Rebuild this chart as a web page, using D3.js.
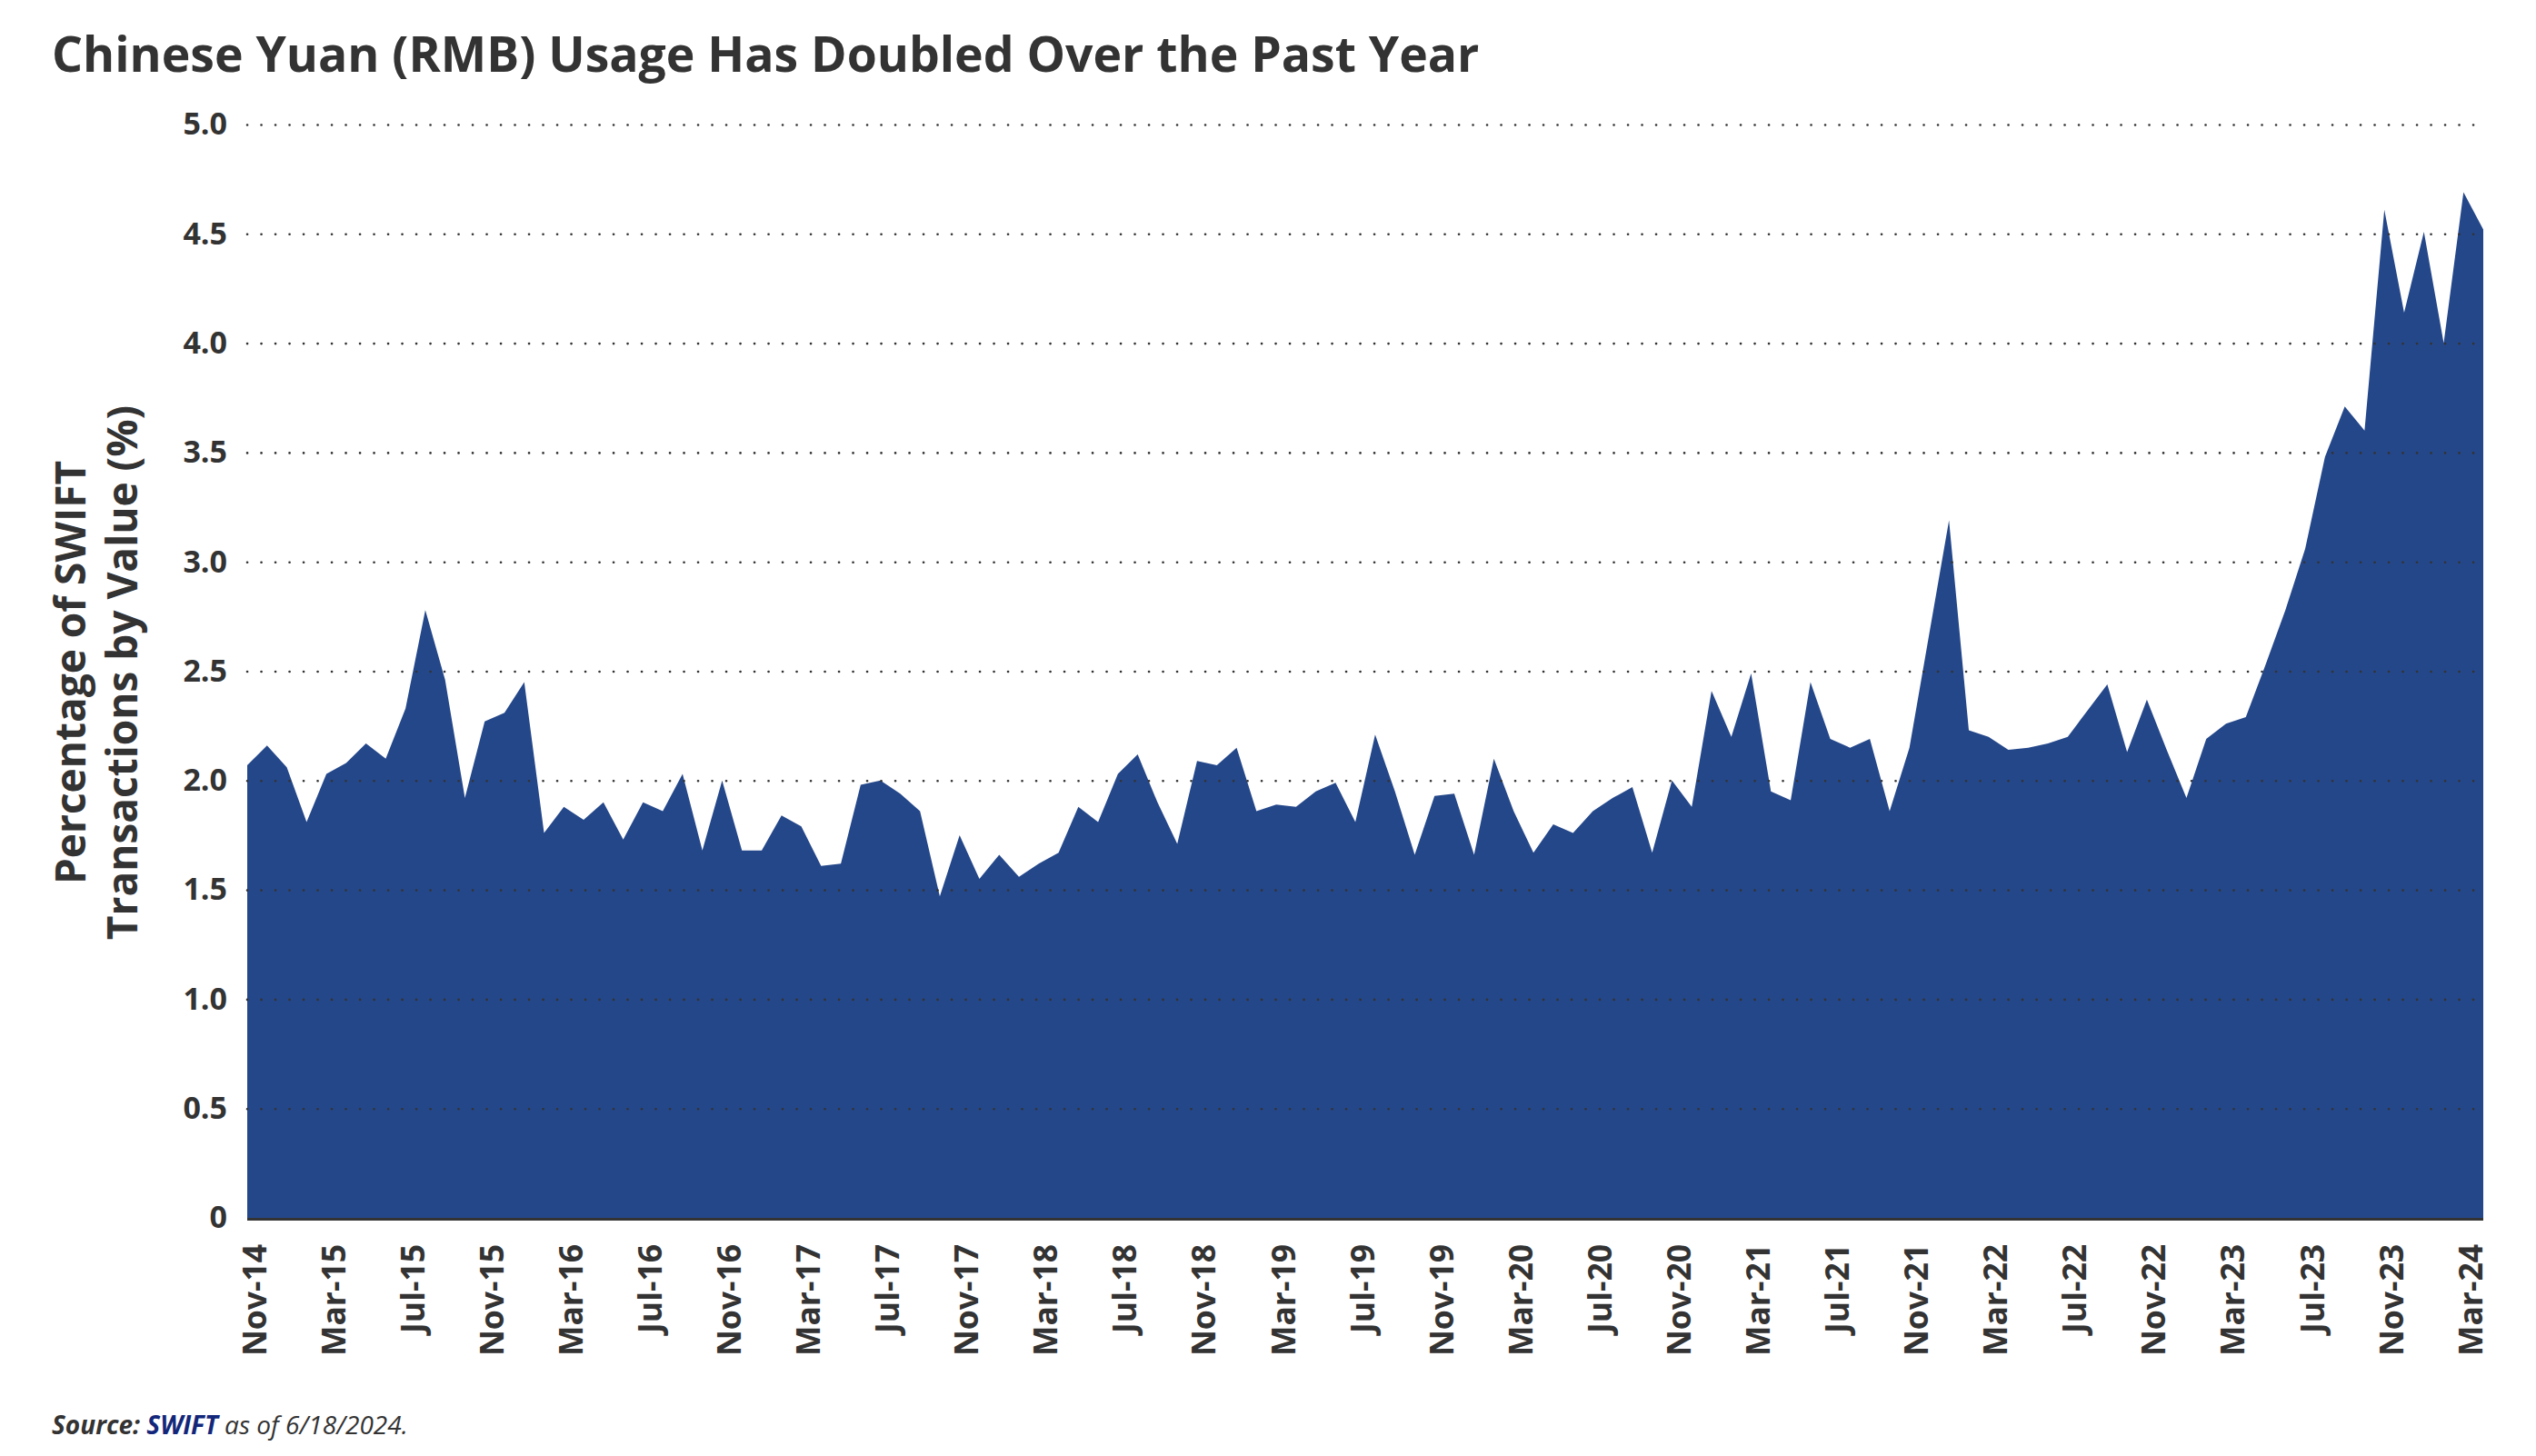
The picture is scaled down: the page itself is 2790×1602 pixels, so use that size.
<!DOCTYPE html>
<html>
<head>
<meta charset="utf-8">
<script src="https://cdn.jsdelivr.net/npm/d3@7"></script>
<style>
  html, body { margin: 0; padding: 0; background: #ffffff; }
  svg { display: block; }
</style>
</head>
<body>
<svg id="chart" width="2790" height="1602"></svg>
<script>
const months = [
  "Nov-14","Dec-14",
  "Jan-15","Feb-15","Mar-15","Apr-15","May-15","Jun-15","Jul-15","Aug-15","Sep-15","Oct-15","Nov-15","Dec-15",
  "Jan-16","Feb-16","Mar-16","Apr-16","May-16","Jun-16","Jul-16","Aug-16","Sep-16","Oct-16","Nov-16","Dec-16",
  "Jan-17","Feb-17","Mar-17","Apr-17","May-17","Jun-17","Jul-17","Aug-17","Sep-17","Oct-17","Nov-17","Dec-17",
  "Jan-18","Feb-18","Mar-18","Apr-18","May-18","Jun-18","Jul-18","Aug-18","Sep-18","Oct-18","Nov-18","Dec-18",
  "Jan-19","Feb-19","Mar-19","Apr-19","May-19","Jun-19","Jul-19","Aug-19","Sep-19","Oct-19","Nov-19","Dec-19",
  "Jan-20","Feb-20","Mar-20","Apr-20","May-20","Jun-20","Jul-20","Aug-20","Sep-20","Oct-20","Nov-20","Dec-20",
  "Jan-21","Feb-21","Mar-21","Apr-21","May-21","Jun-21","Jul-21","Aug-21","Sep-21","Oct-21","Nov-21","Dec-21",
  "Jan-22","Feb-22","Mar-22","Apr-22","May-22","Jun-22","Jul-22","Aug-22","Sep-22","Oct-22","Nov-22","Dec-22",
  "Jan-23","Feb-23","Mar-23","Apr-23","May-23","Jun-23","Jul-23","Aug-23","Sep-23","Oct-23","Nov-23","Dec-23",
  "Jan-24","Feb-24","Mar-24","Apr-24"
];

const rmbShare = [
  2.07, 2.16,
  2.06, 1.81, 2.03, 2.08, 2.17, 2.10, 2.33, 2.78, 2.46, 1.92, 2.27, 2.31,
  2.45, 1.76, 1.88, 1.82, 1.90, 1.73, 1.90, 1.86, 2.03, 1.68, 2.00, 1.68,
  1.68, 1.84, 1.79, 1.61, 1.62, 1.98, 2.00, 1.94, 1.86, 1.47, 1.75, 1.55,
  1.66, 1.56, 1.62, 1.67, 1.88, 1.81, 2.03, 2.12, 1.90, 1.71, 2.09, 2.07,
  2.15, 1.86, 1.89, 1.88, 1.95, 1.99, 1.81, 2.21, 1.95, 1.66, 1.93, 1.94,
  1.66, 2.10, 1.86, 1.67, 1.80, 1.76, 1.86, 1.92, 1.97, 1.67, 2.00, 1.88,
  2.41, 2.20, 2.49, 1.95, 1.91, 2.45, 2.19, 2.15, 2.19, 1.86, 2.15, 2.67,
  3.19, 2.23, 2.20, 2.14, 2.15, 2.17, 2.20, 2.32, 2.44, 2.13, 2.37, 2.14,
  1.92, 2.19, 2.26, 2.29, 2.53, 2.78, 3.06, 3.48, 3.71, 3.60, 4.61, 4.14,
  4.51, 4.00, 4.69, 4.52
];

const xTickLabels = [
  "Nov-14","Mar-15","Jul-15","Nov-15","Mar-16","Jul-16","Nov-16","Mar-17","Jul-17","Nov-17",
  "Mar-18","Jul-18","Nov-18","Mar-19","Jul-19","Nov-19","Mar-20","Jul-20","Nov-20","Mar-21",
  "Jul-21","Nov-21","Mar-22","Jul-22","Nov-22","Mar-23","Jul-23","Nov-23","Mar-24"
];

const yTickValues = [0, 0.5, 1.0, 1.5, 2.0, 2.5, 3.0, 3.5, 4.0, 4.5, 5.0];
const yTickLabels = ["0", "0.5", "1.0", "1.5", "2.0", "2.5", "3.0", "3.5", "4.0", "4.5", "5.0"];

const titleText = "Chinese Yuan (RMB) Usage Has Doubled Over the Past Year";
const yTitleLines = ["Percentage of SWIFT", "Transactions by Value (%)"];

const data = months.map((m, i) => ({ month: m, value: rmbShare[i] }));

const svg = d3.select("#chart");
const plotLeft = 272, plotRight = 2732, plotTop = 137, plotBottom = 1340;
const textColor = "#333333";
const fillColor = "#24478a";
const fontFam = "'Open Sans', 'Noto Sans', sans-serif";

const x = d3.scalePoint().domain(months).range([plotLeft, plotRight]);
const y = d3.scaleLinear().domain([0, 5]).range([plotBottom, plotTop]);

// Title
svg.append("text")
  .attr("x", 57).attr("y", 79)
  .attr("font-family", fontFam).attr("font-weight", 700)
  .attr("font-size", 53.5).attr("fill", textColor)
  .text(titleText);

// Area
const area = d3.area()
  .x(d => x(d.month))
  .y0(y(0))
  .y1(d => y(d.value));

svg.append("path")
  .datum(data)
  .attr("d", area)
  .attr("fill", fillColor);

// Y axis with dotted gridlines (drawn over the area)
const yAxis = d3.axisLeft(y)
  .tickValues(yTickValues)
  .tickFormat((d, i) => yTickLabels[i])
  .tickSize(0)
  .tickPadding(22);

const gy = svg.append("g")
  .attr("transform", `translate(${plotLeft},0)`)
  .call(yAxis);
gy.select(".domain").remove();
gy.selectAll(".tick text")
  .attr("font-family", fontFam).attr("font-weight", 700)
  .attr("font-size", 34).attr("fill", textColor);
gy.selectAll(".tick")
  .filter(d => d > 0)
  .append("line")
  .attr("x1", 0).attr("x2", plotRight - plotLeft)
  .attr("stroke", textColor)
  .attr("stroke-width", 2.6)
  .attr("stroke-linecap", "round")
  .attr("stroke-dasharray", "0.1 15.4");

// X axis baseline
svg.append("line")
  .attr("x1", plotLeft).attr("x2", plotRight)
  .attr("y1", y(0) + 1.5).attr("y2", y(0) + 1.5)
  .attr("stroke", textColor).attr("stroke-width", 3);

// X axis labels
const xAxis = d3.axisBottom(x)
  .tickValues(xTickLabels)
  .tickSize(0)
  .tickPadding(0);
const gx = svg.append("g")
  .attr("transform", `translate(0,${plotBottom})`)
  .call(xAxis);
gx.select(".domain").remove();
gx.selectAll(".tick text")
  .attr("font-family", fontFam).attr("font-weight", 700)
  .attr("font-size", 35.5).attr("fill", textColor)
  .attr("text-anchor", "end")
  .attr("dy", null)
  .attr("y", 0)
  .attr("transform", "translate(6,29) rotate(-90)")
  .attr("dominant-baseline", "central");

// Y axis title
const yTitle = svg.append("text")
  .attr("transform", "translate(0,740) rotate(-90)")
  .attr("font-family", fontFam).attr("font-weight", 700)
  .attr("font-size", 46).attr("fill", textColor)
  .attr("text-anchor", "middle");
yTitle.append("tspan").attr("x", 0).attr("y", 94).text(yTitleLines[0]);
yTitle.append("tspan").attr("x", 0).attr("y", 151).text(yTitleLines[1]);

// Source
const src = svg.append("text")
  .attr("x", 57).attr("y", 1578)
  .attr("font-family", fontFam).attr("font-style", "italic")
  .attr("font-size", 28).attr("fill", textColor);
src.append("tspan").attr("font-weight", 700).text("Source: ");
src.append("tspan").attr("font-weight", 700).attr("fill", "#13277a").text("SWIFT");
src.append("tspan").attr("font-weight", 400).text(" as of 6/18/2024.");
</script>
</body>
</html>
